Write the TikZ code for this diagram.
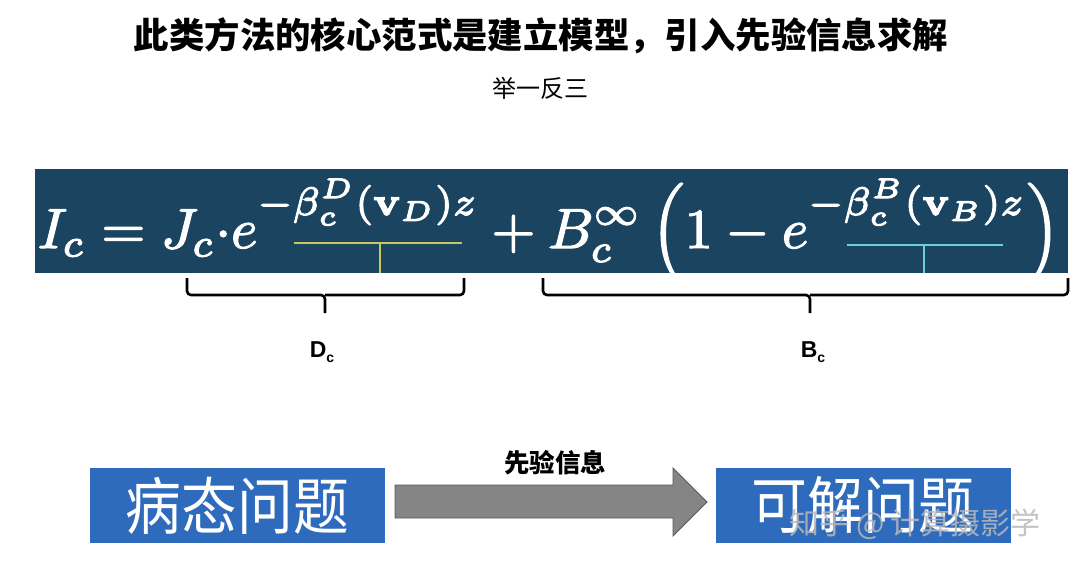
\documentclass[tikz,border=0pt]{standalone}
\usepackage[no-math]{fontspec}
\usepackage{amsmath}
\usepackage{graphicx}
\setmainfont{Liberation Sans}
\newfontfamily\cjk{Noto Sans CJK SC}
\definecolor{band}{HTML}{1B4461}
\definecolor{boxblue}{HTML}{2E6BBD}
\definecolor{arrowgray}{HTML}{858585}
\definecolor{ulyellow}{HTML}{C8C860}
\definecolor{ulcyan}{HTML}{6CCFE0}
\newcommand{\lowc}{\raisebox{0.2pt}{$\scriptscriptstyle c$}}
\newcommand{\expo}[2]{\raisebox{1.7pt}{$\scriptstyle -\beta^{#1}_{\lowc}(\mathbf{v}_{#1})z$}}
\tikzset{
  bracepath/.style={draw=black, line width=2.6pt, rounded corners=4pt},
  problembox/.style={fill=boxblue, draw=none, minimum width=295pt, minimum height=75pt, inner sep=0pt, text=white},
  arrowshape/.style={fill=arrowgray, draw=black!65, line width=0.8pt},
  ulyel/.style={draw=ulyellow, line width=1.6pt},
  ulcy/.style={draw=ulcyan, line width=1.6pt}
}
\begin{document}
\begin{tikzpicture}[x=1pt,y=-1pt]
\useasboundingbox[fill=white] (0,0) rectangle (1080,575);
% title
\node (title) at (541,36) {\cjk\bfseries\fontsize{35.4}{40}\selectfont 此类方法的核心范式是建立模型，引入先验信息求解};
\node (sub) at (540,88) {\cjk\fontsize{24}{28}\selectfont 举一反三};
% band
\node[fill=band, minimum width=1033pt, minimum height=104pt, inner sep=0pt] (band) at (551.5,221) {};
\node[text=white, inner sep=0pt, anchor=base] (formula) at (549,248) {\resizebox{1022pt}{!}{\special{pdf:literal direct 2 Tr 0.22 w}$\displaystyle I_c = J_c{\cdot}e^{\expo{D}{}} + B_c^{\infty}\left(1-e^{\expo{B}{}}\right)$\special{pdf:literal direct 0 Tr}}};
% underlines
\coordinate (dl) at (294,243);
\coordinate (dr) at (462,243);
\coordinate (dm) at (380,243);
\coordinate (dmb) at (380,273);
\draw[ulyel] (dl) -- (dr);
\draw[ulyel] (dm) -- (dmb);
\coordinate (bl) at (847,245);
\coordinate (br) at (1003,245);
\coordinate (bm) at (924,245);
\coordinate (bmb) at (924,273);
\draw[ulcy] (bl) -- (br);
\draw[ulcy] (bm) -- (bmb);
% braces
\coordinate (b1l) at (187,278);
\coordinate (b1r) at (464,278);
\coordinate (b1c) at (325,313);
\draw[bracepath] (b1l) |- (325,295) -- (b1c);
\draw[bracepath] (b1r) |- (325,295);
\coordinate (b2l) at (543,278);
\coordinate (b2r) at (1068,278);
\coordinate (b2c) at (810,313);
\draw[bracepath] (b2l) |- (810,295) -- (b2c);
\draw[bracepath] (b2r) |- (810,295);
\node (dc) at (322,352) {\bfseries\fontsize{23}{26}\selectfont D\raisebox{-5pt}{\fontsize{14}{16}\selectfont c}};
\node (bc) at (813,352) {\bfseries\fontsize{23}{26}\selectfont B\raisebox{-5pt}{\fontsize{14}{16}\selectfont c}};
% boxes
\node[problembox] (ill) at (237.5,505.5) {\scalebox{0.9}[1]{\cjk\fontsize{62}{66}\selectfont 病态问题}};
\node[problembox] (sol) at (863,505.5) {\scalebox{0.9}[1]{\cjk\fontsize{62}{66}\selectfont 可解问题}};
% arrow
\draw[arrowshape] (395,485) -- (673,485) -- (673,468) -- (707,502) -- (673,536) -- (673,518) -- (395,518) -- cycle;
\node (prior) at (555,463) {\cjk\bfseries\fontsize{25.5}{28}\selectfont 先验信息};
% watermark
\node[text=gray!55, opacity=0.85] (wm) at (915,524) {\cjk\fontsize{30}{34}\selectfont 知乎 @\,计算摄影学};
\end{tikzpicture}
\end{document}
